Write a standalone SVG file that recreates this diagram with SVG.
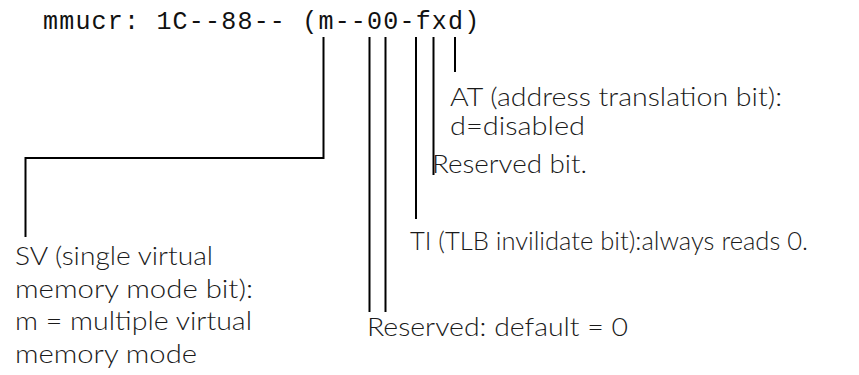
<svg xmlns="http://www.w3.org/2000/svg" width="859" height="375" viewBox="0 0 859 375">
  <style>
    .reg { font-family: "Liberation Mono", "DejaVu Sans Mono", monospace; font-size: 25px; letter-spacing: 1.2px; fill: #111; }
    .lbl { font-family: Lato, "Open Sans", "Liberation Sans", sans-serif; font-size: 26px; font-weight: 300; fill: #1a1a1a; }
    .lead { fill: none; stroke: #000; stroke-width: 2; }
  </style>
  <rect width="859" height="375" fill="#fff"/>

  <!-- register value -->
  <g id="register">
    <text class="reg" x="43" y="29">mmucr: 1C--88-- (m--00-fxd)</text>
  </g>

  <!-- leader lines from each bit -->
  <g id="connectors">
    <polyline class="lead" points="323.5,37 323.5,158 25.5,158 25.5,237"/>
    <line class="lead" x1="369.5" y1="37" x2="369.5" y2="312"/>
    <line class="lead" x1="385.5" y1="37" x2="385.5" y2="312"/>
    <line class="lead" x1="416" y1="37" x2="416" y2="219"/>
    <line class="lead" x1="433.5" y1="37" x2="433.5" y2="175"/>
    <line class="lead" x1="455" y1="37" x2="455" y2="72"/>
  </g>

  <g id="at-bit">
    <text class="lbl" x="450" y="106" textLength="332" lengthAdjust="spacingAndGlyphs">AT (address translation bit):</text>
    <text class="lbl" x="450" y="135" textLength="135" lengthAdjust="spacingAndGlyphs">d=disabled</text>
  </g>

  <g id="reserved-bit">
    <text class="lbl" x="432" y="173" textLength="155" lengthAdjust="spacingAndGlyphs">Reserved bit.</text>
  </g>

  <g id="ti-bit">
    <text class="lbl" x="410" y="250" textLength="398" lengthAdjust="spacingAndGlyphs">TI (TLB invilidate bit):always reads 0.</text>
  </g>

  <g id="reserved-default">
    <text class="lbl" x="367" y="336" textLength="261" lengthAdjust="spacingAndGlyphs">Reserved: default = 0</text>
  </g>

  <g id="sv-bit">
    <text class="lbl" x="15" y="265" textLength="198" lengthAdjust="spacingAndGlyphs">SV (single virtual</text>
    <text class="lbl" x="15" y="297.5" textLength="238" lengthAdjust="spacingAndGlyphs">memory mode bit):</text>
    <text class="lbl" x="15" y="330" textLength="237" lengthAdjust="spacingAndGlyphs">m = multiple virtual</text>
    <text class="lbl" x="15" y="362.5" textLength="182" lengthAdjust="spacingAndGlyphs">memory mode</text>
  </g>
</svg>
